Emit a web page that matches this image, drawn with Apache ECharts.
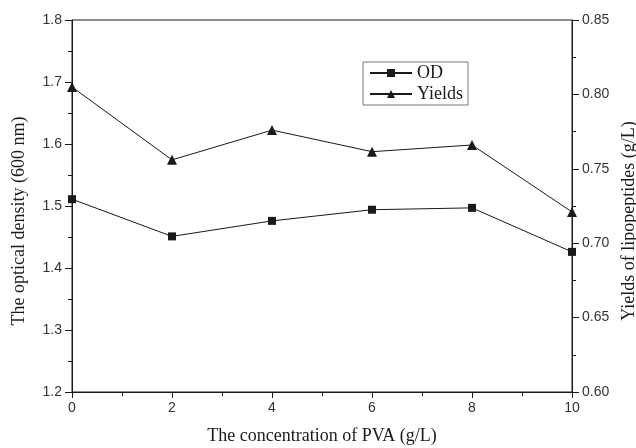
<!DOCTYPE html>
<html>
<head>
<meta charset="utf-8">
<script src="https://cdn.jsdelivr.net/npm/echarts@6/dist/echarts.min.js"></script>
<style>html,body{margin:0;padding:0;background:#fff;}#c{width:636px;height:448px;}</style>
</head>
<body>
<div id="c"></div>
<script>
var pva = [0, 2, 4, 6, 8, 10];
var odValues = [1.511, 1.451, 1.476, 1.494, 1.497, 1.426];
var yieldValues = [0.805, 0.756, 0.776, 0.7615, 0.766, 0.721];
var leftTicks = [1.2, 1.3, 1.4, 1.5, 1.6, 1.7, 1.8];
var rightTicks = [0.60, 0.65, 0.70, 0.75, 0.80, 0.85];

function pairs(xs, ys) { return xs.map(function (x, i) { return [x, ys[i]]; }); }

var serif = '"Liberation Serif", "Times New Roman", serif';
var sans = '"Liberation Sans", Arial, sans-serif';
var ink = '#1a1a1a';

var chart = echarts.init(document.getElementById('c'), null, {renderer: 'canvas'});
chart.setOption({
  animation: false,
  backgroundColor: '#fff',
  grid: {left: 72, right: 64, top: 20, bottom: 56, show: true, borderColor: ink, borderWidth: 1,
    backgroundColor: 'transparent', containLabel: false, outerBoundsMode: 'none'},
  legend: {
    orient: 'vertical', left: 363, top: 62,
    itemWidth: 42, itemHeight: 10, itemGap: 3,
    padding: [2, 5, 2, 6],
    borderColor: '#777', borderWidth: 1,
    textStyle: {fontFamily: serif, fontSize: 18, color: ink},
    data: ['OD', 'Yields']
  },
  xAxis: {
    type: 'value', min: 0, max: 10, interval: 2,
    name: 'The concentration of PVA (g/L)', nameLocation: 'middle', nameGap: 35,
    nameTextStyle: {fontFamily: serif, fontSize: 18, color: ink},
    axisLine: {lineStyle: {color: ink, width: 1}},
    axisTick: {show: true, length: 6, lineStyle: {color: ink}},
    minorTick: {show: true, splitNumber: 2, length: 4, lineStyle: {color: ink}},
    splitLine: {show: false},
    axisLabel: {fontFamily: sans, fontSize: 14, color: '#333', margin: 9}
  },
  yAxis: [{
    type: 'value', min: leftTicks[0], max: leftTicks[leftTicks.length - 1], interval: 0.1,
    name: 'The optical density (600 nm)', nameLocation: 'middle', nameGap: 44,
    nameTextStyle: {fontFamily: serif, fontSize: 18, color: ink, padding: [0, 30, 0, 0]},
    axisLine: {show: true, lineStyle: {color: ink, width: 1}},
    axisTick: {show: true, length: 7, lineStyle: {color: ink}},
    minorTick: {show: true, splitNumber: 2, length: 4, lineStyle: {color: ink}},
    splitLine: {show: false},
    axisLabel: {fontFamily: sans, fontSize: 14, color: '#333', margin: 10,
      formatter: function (v) { return v.toFixed(1); }}
  }, {
    type: 'value', min: rightTicks[0], max: rightTicks[rightTicks.length - 1], interval: 0.05,
    position: 'right',
    name: 'Yields of lipopeptides (g/L)', nameLocation: 'middle', nameGap: 48,
    nameTextStyle: {fontFamily: serif, fontSize: 18, color: ink, padding: [0, 30, 0, 0]},
    axisLine: {show: true, lineStyle: {color: ink, width: 1}},
    axisTick: {show: true, length: 7, lineStyle: {color: ink}},
    minorTick: {show: true, splitNumber: 2, length: 4, lineStyle: {color: ink}},
    splitLine: {show: false},
    axisLabel: {fontFamily: sans, fontSize: 14, color: '#333', margin: 10,
      formatter: function (v) { return v.toFixed(2); }}
  }],
  series: [{
    name: 'OD', type: 'line', yAxisIndex: 0,
    data: pairs(pva, odValues),
    symbol: 'rect', symbolSize: 8,
    lineStyle: {color: ink, width: 1},
    itemStyle: {color: ink, borderWidth: 0}
  }, {
    name: 'Yields', type: 'line', yAxisIndex: 1,
    data: pairs(pva, yieldValues),
    symbol: 'triangle', symbolSize: 10,
    lineStyle: {color: ink, width: 1},
    itemStyle: {color: ink, borderWidth: 0}
  }]
});
</script>
</body>
</html>
